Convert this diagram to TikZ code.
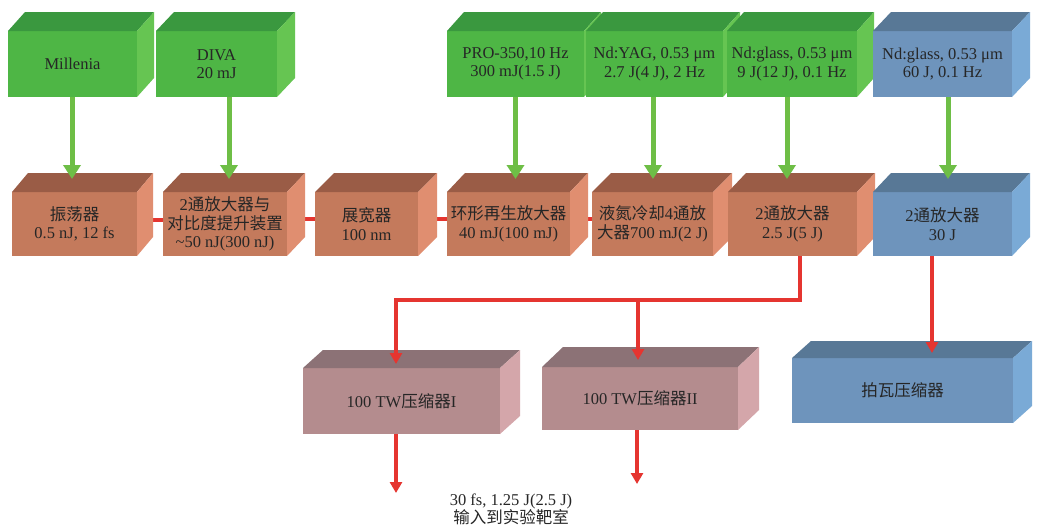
\documentclass[tikz,border=0pt]{standalone}
\usepackage{fontspec}
\setmainfont{Liberation Serif}
\newfontfamily\cjkfont{Noto Sans CJK SC}
\newcommand\zh[1]{{\cjkfont #1}}
\usetikzlibrary{arrows.meta,calc}
\definecolor{gF}{HTML}{4EB645}
\definecolor{gT}{HTML}{3A983F}
\definecolor{gR}{HTML}{66C552}
\definecolor{oF}{HTML}{C47A5C}
\definecolor{oT}{HTML}{9A5C46}
\definecolor{oR}{HTML}{E08E70}
\definecolor{bF}{HTML}{6E94BC}
\definecolor{bT}{HTML}{587896}
\definecolor{bR}{HTML}{7AAAD6}
\definecolor{pF}{HTML}{B48C8E}
\definecolor{pT}{HTML}{8C7276}
\definecolor{pR}{HTML}{D4A6AA}
\definecolor{garr}{HTML}{6EBE46}
\definecolor{red1}{HTML}{E53530}
\definecolor{txt}{HTML}{262626}
\pgfdeclarelayer{bg}
\pgfsetlayers{bg,main}
\newcommand\cubox[8]{%
  \node[front, fill=#2F, minimum width=#5pt, minimum height=#6pt] (#1) at (#3,#4) {#8};
  \fill[#2T] (#1.north west) -- ([shift={(#7)}]#1.north west) -- ([shift={(#7)}]#1.north east) -- (#1.north east) -- cycle;
  \fill[#2R] (#1.north east) -- ([shift={(#7)}]#1.north east) -- ([shift={(#7)}]#1.south east) -- (#1.south east) -- cycle;
}
\begin{document}
\begin{tikzpicture}[x=1pt,y=-1pt,
  front/.style={inner sep=0pt, outer sep=0pt, align=center, text=txt,
    font=\fontsize{16.5}{18.5}\selectfont},
  garrow/.style={draw=garr, line width=5pt, -{Triangle[width=17pt,length=14pt]}},
  rarrow/.style={draw=red1, line width=3.5pt, -{Triangle[width=12pt,length=11pt]}},
  rline/.style={draw=red1, line width=3.5pt},
  note/.style={align=center, text=txt, font=\fontsize{16.5}{18}\selectfont}]
\useasboundingbox (0,0) rectangle (1038,530);
\begin{pgfonlayer}{bg}
\fill[white] (0,0) rectangle (1038,530);
\end{pgfonlayer}
% top row
\cubox{mil}{g}{72.5}{64}{129}{66}{17,-19}{Millenia}
\cubox{diva}{g}{216.5}{64}{121}{66}{18,-19}{DIVA\\20 mJ}
\cubox{pro}{g}{515.5}{64}{137}{66}{17,-19}{PRO-350,10 Hz\\300 mJ(1.5 J)}
\cubox{yag}{g}{654.5}{64}{137}{66}{17,-19}{Nd:YAG, 0.53 μm\\2.7 J(4 J), 2 Hz}
\cubox{ndg}{g}{792}{64}{130}{66}{17,-19}{Nd:glass, 0.53 μm\\9 J(12 J), 0.1 Hz}
\cubox{ndb}{b}{942.5}{64}{139}{66}{18,-19}{Nd:glass, 0.53 μm\\60 J, 0.1 Hz}
% middle row
\cubox{osc}{o}{74.5}{224}{125}{64}{16,-19}{\zh{振荡器}\\0.5 nJ, 12 fs}
\cubox{amp2}{o}{225}{224}{124}{64}{18,-19}{2\zh{通放大器与}\\\zh{对比度提升装置}\\\textasciitilde 50 nJ(300 nJ)}
\cubox{str}{o}{366.5}{224}{103}{64}{19,-19}{\zh{展宽器}\\100 nm}
\cubox{regen}{o}{508.5}{224}{123}{64}{18,-19}{\zh{环形再生放大器}\\40 mJ(100 mJ)}
\cubox{ln}{o}{652.5}{224}{121}{64}{19,-19}{\zh{液氮冷却}4\zh{通放}\\\zh{大器}700 mJ(2 J)}
\cubox{amp3}{o}{792.5}{224}{129}{64}{18,-19}{2\zh{通放大器}\\2.5 J(5 J)}
\cubox{ampb}{b}{942.5}{224}{139}{64}{18,-19}{2\zh{通放大器}\\30 J}
% bottom row
\cubox{c1}{p}{401.5}{401}{197}{66}{20,-18}{100 TW\zh{压缩器}I}
\cubox{c2}{p}{640}{398.5}{196}{63}{21,-20}{100 TW\zh{压缩器}II}
\cubox{pw}{b}{902.5}{390.5}{221}{65}{19,-17}{\zh{拍瓦压缩器}}
\node[note] (tgt) at (511,509) {30 fs, 1.25 J(2.5 J)\\\zh{输入到实验靶室}};
% red links between middle boxes (behind the boxes)
\begin{pgfonlayer}{bg}
\draw[rline] ([yshift=4]osc.east) -- ([yshift=4]amp2.west);
\draw[rline] ([yshift=5]amp2.east) -- ([yshift=5]str.west);
\draw[rline] ([yshift=5]str.east) -- ([yshift=5]regen.west);
\draw[rline] ([yshift=5]regen.east) -- ([yshift=5]ln.west);
\draw[rline] ([yshift=5]ln.east) -- ([yshift=5]amp3.west);
\draw[rline] ([yshift=5]amp3.east) -- ([yshift=5]ampb.west);
\end{pgfonlayer}
% green pump arrows
\draw[garrow] ([xshift=-0.5]mil.south) -- ([xshift=-2.5,yshift=13]osc.north);
\draw[garrow] ([xshift=12.5]diva.south) -- ([xshift=4,yshift=13]amp2.north);
\draw[garrow] (pro.south) -- ([xshift=7,yshift=13]regen.north);
\draw[garrow] ([xshift=-1.5]yag.south) -- ([xshift=0.5,yshift=13]ln.north);
\draw[garrow] ([xshift=-5]ndg.south) -- ([xshift=-5.5,yshift=13]amp3.north);
\draw[garrow] ([xshift=5.5]ndb.south) -- ([xshift=5.5,yshift=13]ampb.north);
% red beam paths
\coordinate (busR) at (800,300);
\coordinate (busM) at (638,300);
\draw[rarrow] ([xshift=7.5]amp3.south) -- (busR) -| ([xshift=-5.5,yshift=4]c1.north);
\draw[rarrow] (busM) -- ([xshift=-2,yshift=7]c2.north);
\draw[rarrow] ([xshift=-10.5]ampb.south) -- ([xshift=29.5,yshift=5]pw.north);
\draw[rarrow] ([xshift=-5.5]c1.south) -- ([xshift=-5.5,yshift=-59]c1.south);
\draw[rarrow] ([xshift=-3]c2.south) -- ([xshift=-3,yshift=-54]c2.south);
\end{tikzpicture}
\end{document}
